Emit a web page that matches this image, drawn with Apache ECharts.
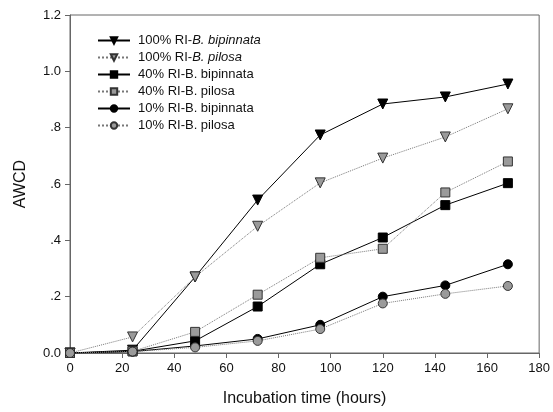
<!DOCTYPE html>
<html>
<head>
<meta charset="utf-8">
<script src="https://cdn.jsdelivr.net/npm/echarts@6/dist/echarts.min.js"></script>
<style>
  html, body { margin: 0; padding: 0; background: #fff; }
  #chart { width: 553px; height: 412px; }
</style>
</head>
<body>
<div id="chart"></div>
<script>
const hours = [0, 24, 48, 72, 96, 120, 144, 168];
const bip100 = [0, 0.01, 0.27, 0.543, 0.774, 0.884, 0.909, 0.955];
const pil100 = [0, 0.057, 0.27, 0.45, 0.604, 0.692, 0.767, 0.867];
const bip40 = [0, 0.006, 0.043, 0.165, 0.315, 0.41, 0.525, 0.603];
const pil40 = [0, 0.006, 0.075, 0.207, 0.338, 0.37, 0.57, 0.68];
const bip10 = [0, 0.005, 0.025, 0.05, 0.1, 0.2, 0.24, 0.315];
const pil10 = [0, 0.005, 0.02, 0.043, 0.085, 0.176, 0.21, 0.238];
const yTicks = {0: '0.0', 0.2: '.2', 0.4: '.4', 0.6: '.6', 0.8: '.8', 1: '1.0', 1.2: '1.2'};

const pairs = (arr) => hours.map((h, i) => [h, arr[i]]);

function mk(name, data, symbol, filled, dotted) {
  return {
    name: name,
    type: 'line',
    data: pairs(data),
    symbol: symbol,
    symbolSize: symbol === 'triangle' ? 10 : 9,
    symbolRotate: symbol === 'triangle' ? 180 : 0,
    showAllSymbol: true,
    lineStyle: {color: dotted ? '#777' : '#000', width: 1, type: dotted ? 'dotted' : 'solid'},
    itemStyle: {color: filled ? '#000' : '#9a9a9a', borderColor: filled ? '#000' : '#333', borderWidth: 1},
    emphasis: {disabled: true},
    animation: false
  };
}

const chart = echarts.init(document.getElementById('chart'));
chart.setOption({
  backgroundColor: '#fff',
  textStyle: {fontFamily: 'Liberation Sans, Arial, sans-serif'},
  grid: {left: 70, right: 12, top: 15, bottom: 59, show: true, borderColor: '#666', borderWidth: 1},
  legend: {
    orient: 'vertical',
    left: 92,
    top: 29,
    itemGap: 4,
    itemWidth: 32,
    itemHeight: 8,
    textStyle: {fontSize: 13, color: '#111', padding: [0, 0, 0, 3], rich: {i: {fontStyle: 'italic', fontSize: 13, color: '#111'}}},
    formatter: (n) => {
      if (n.startsWith('100%')) {
        return n.replace(/B\. (\w+)/, '{i|B. $1}');
      }
      return n;
    },
    data: ['100% RI-B. bipinnata', '100% RI-B. pilosa', '40% RI-B. bipinnata', '40% RI-B. pilosa', '10% RI-B. bipinnata', '10% RI-B. pilosa']
  },
  xAxis: {
    type: 'value',
    min: 0,
    max: 180,
    interval: 20,
    name: 'Incubation time (hours)',
    nameLocation: 'middle',
    nameGap: 38,
    nameTextStyle: {fontSize: 16, color: '#111'},
    axisLine: {show: true, lineStyle: {color: '#666'}},
    axisTick: {show: true, inside: false, length: 5, lineStyle: {color: '#666'}},
    axisLabel: {fontSize: 13, color: '#111', margin: 9},
    splitLine: {show: false}
  },
  yAxis: {
    type: 'value',
    min: 0,
    max: 1.2,
    interval: 0.2,
    name: 'AWCD',
    nameLocation: 'middle',
    nameGap: 41,
    nameTextStyle: {fontSize: 16, color: '#111'},
    axisLine: {show: true, lineStyle: {color: '#666'}},
    axisTick: {show: true, inside: false, length: 5, lineStyle: {color: '#666'}},
    axisLabel: {fontSize: 13, color: '#111', margin: 9, formatter: (v) => yTicks[Math.round(v * 10) / 10] ?? v},
    splitLine: {show: false}
  },
  series: [
    mk('100% RI-B. bipinnata', bip100, 'triangle', true, false),
    mk('100% RI-B. pilosa', pil100, 'triangle', false, true),
    mk('40% RI-B. bipinnata', bip40, 'rect', true, false),
    mk('40% RI-B. pilosa', pil40, 'rect', false, true),
    mk('10% RI-B. bipinnata', bip10, 'circle', true, false),
    mk('10% RI-B. pilosa', pil10, 'circle', false, true)
  ]
});
</script>
</body>
</html>
